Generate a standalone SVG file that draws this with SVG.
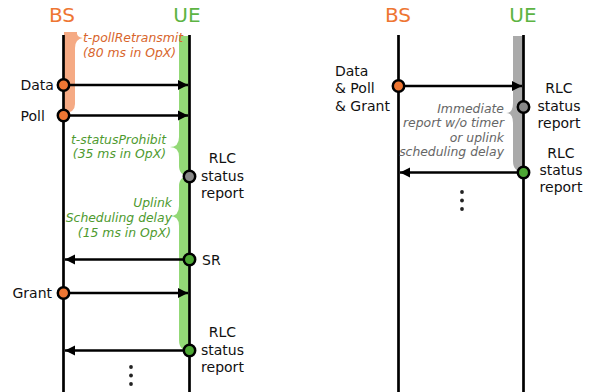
<svg xmlns="http://www.w3.org/2000/svg" width="595" height="392" viewBox="0 0 595 392">
<defs>
<style>
.title{font-family:"DejaVu Sans",sans-serif;font-size:20px;text-anchor:middle}
.lbl{font-family:"DejaVu Sans",sans-serif;font-size:14px;fill:#111}
.mid{text-anchor:middle}
.it{font-family:"DejaVu Sans",sans-serif;font-size:12.4px;font-style:italic}
.end{text-anchor:end}
.life{stroke:#000;stroke-width:2.7;fill:none}
.arr{stroke:#000;stroke-width:2.5;fill:none;marker-end:url(#ah)}
.c{stroke:#000;stroke-width:2.5}
.or{fill:#EE7633}
.gr{fill:#4DA834}
.gy{fill:#888}
</style>
<marker id="ah" viewBox="0 0 10 10" refX="10" refY="5" markerWidth="4" markerHeight="4.2" orient="auto" markerUnits="strokeWidth">
<path d="M0,0 L10,5 L0,10 Z" fill="#000"/>
</marker>
</defs>
<rect width="595" height="392" fill="#fff"/>

<g id="bands">
<path d="M64 32 L77 32 Q76 37 83 38 Q75 39 75 48 L75 104 Q75 113 64 113 Z" fill="#F5AA84"/>
<path d="M190 36 L179 36 L179 137 Q179 147 170 147 Q179 147 179 157 L179 166 Q179 176 190 176 Z" fill="#93D977"/>
<path d="M190 176 Q179 176 179 186 L179 206 Q179 216 170 216 Q179 216 179 226 L179 340 Q179 351 190 351 Z" fill="#93D977"/>
<path d="M524 36 L513 36 L513 103 Q513 113 506 113 Q513 113 513 123 L513 161 Q513 172 524 172 Z" fill="#AAAAAA"/>
</g>

<g id="titles">
<text class="title" x="62" y="22" fill="#EE7633">BS</text>
<text class="title" x="187" y="22" fill="#5DB443">UE</text>
<text class="title" x="398" y="22" fill="#EE7633">BS</text>
<text class="title" x="523" y="22" fill="#5DB443">UE</text>
</g>

<g id="lifelines">
<line class="life" x1="63.5" y1="35" x2="63.5" y2="392"/>
<line class="life" x1="189.5" y1="35" x2="189.5" y2="392"/>
<line class="life" x1="398.5" y1="35" x2="398.5" y2="392"/>
<line class="life" x1="523.5" y1="35" x2="523.5" y2="392"/>
</g>

<g id="connectors">
<line class="arr" x1="70" y1="85" x2="188" y2="85"/>
<line class="arr" x1="70" y1="115.5" x2="188" y2="115.5"/>
<line class="arr" x1="183" y1="259.5" x2="65" y2="259.5"/>
<line class="arr" x1="70" y1="293" x2="188" y2="293"/>
<line class="arr" x1="183" y1="350.5" x2="65" y2="350.5"/>
<line class="arr" x1="405" y1="86" x2="522" y2="86"/>
<line class="arr" x1="517" y1="172.5" x2="400" y2="172.5"/>
</g>

<g id="node-data">
<circle class="c or" cx="63.5" cy="85" r="5.7"/>
<text class="lbl" x="20.5" y="90">Data</text>
</g>
<g id="node-poll">
<circle class="c or" cx="63.5" cy="115.5" r="5.7"/>
<text class="lbl" x="20.5" y="120.5">Poll</text>
</g>
<g id="node-rlc1">
<circle class="c gy" cx="189.5" cy="176.5" r="5.7"/>
<text class="lbl mid" x="222.5" y="163">RLC</text>
<text class="lbl mid" x="222.5" y="181">status</text>
<text class="lbl mid" x="222.5" y="198">report</text>
</g>
<g id="node-sr">
<circle class="c gr" cx="189.5" cy="259.5" r="5.7"/>
<text class="lbl" x="202" y="265">SR</text>
</g>
<g id="node-grant">
<circle class="c or" cx="63.5" cy="293" r="5.7"/>
<text class="lbl" x="12.5" y="297.5">Grant</text>
</g>
<g id="node-rlc2">
<circle class="c gr" cx="189.5" cy="350.5" r="5.7"/>
<text class="lbl mid" x="222.5" y="337">RLC</text>
<text class="lbl mid" x="222.5" y="355">status</text>
<text class="lbl mid" x="222.5" y="372">report</text>
</g>
<g id="dots-left">
<circle cx="131" cy="367" r="1.9" fill="#222"/>
<circle cx="131" cy="375.5" r="1.9" fill="#222"/>
<circle cx="131" cy="384" r="1.9" fill="#222"/>
</g>

<g id="annot-left">
<text class="it" x="83" y="42" fill="#D8652C">t-pollRetransmit</text>
<text class="it" x="83" y="57" fill="#D8652C">(80 ms in OpX)</text>
<text class="it end" x="166" y="144" fill="#4E9A2F">t-statusProhibit</text>
<text class="it end" x="166" y="158" fill="#4E9A2F">(35 ms in OpX)</text>
<text class="it end" x="172" y="207" fill="#4E9A2F">Uplink</text>
<text class="it end" x="172" y="222" fill="#4E9A2F">Scheduling delay</text>
<text class="it end" x="171" y="237" fill="#4E9A2F">(15 ms in OpX)</text>
</g>

<g id="node-dpg">
<circle class="c or" cx="398.5" cy="86" r="5.7"/>
<text class="lbl" x="335" y="75.5">Data</text>
<text class="lbl" x="335" y="93">&amp; Poll</text>
<text class="lbl" x="335" y="110.5">&amp; Grant</text>
</g>
<g id="node-rlc3">
<circle class="c gy" cx="523.5" cy="107" r="5.7"/>
<text class="lbl mid" x="559" y="93">RLC</text>
<text class="lbl mid" x="559" y="111">status</text>
<text class="lbl mid" x="559" y="128">report</text>
</g>
<g id="node-rlc4">
<circle class="c gr" cx="523.5" cy="172.5" r="5.7"/>
<text class="lbl mid" x="561" y="157.5">RLC</text>
<text class="lbl mid" x="561" y="175">status</text>
<text class="lbl mid" x="561" y="192">report</text>
</g>
<g id="annot-right">
<text class="it end" x="504" y="113" fill="#666">Immediate</text>
<text class="it end" x="504" y="127" fill="#666">report w/o timer</text>
<text class="it end" x="504" y="142" fill="#666">or uplink</text>
<text class="it end" x="504" y="156" fill="#666">scheduling delay</text>
</g>
<g id="dots-right">
<circle cx="462" cy="192" r="1.9" fill="#222"/>
<circle cx="462" cy="200.5" r="1.9" fill="#222"/>
<circle cx="462" cy="209" r="1.9" fill="#222"/>
</g>
</svg>
